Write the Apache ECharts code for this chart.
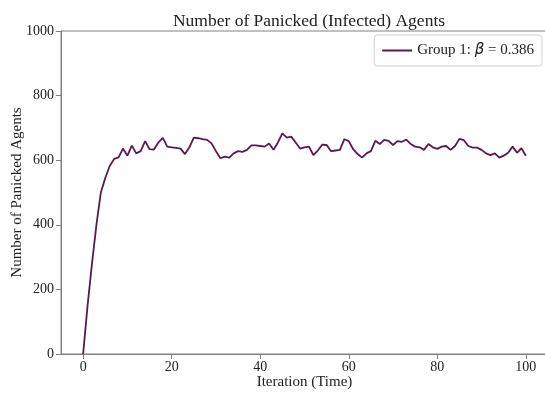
<!DOCTYPE html>
<html>
<head>
<meta charset="utf-8">
<script src="https://cdn.jsdelivr.net/npm/echarts@6/dist/echarts.min.js"></script>
<style>html,body{margin:0;padding:0;background:#fff;}#c{width:545px;height:394px;}</style>
</head>
<body>
<div id="c"></div>
<script>
var iterations = [];
for (var i = 0; i <= 100; i++) iterations.push(i);
var group1Values = [
  0, 150, 280, 400, 500, 545, 582, 604, 609, 636,
  614, 645, 621, 628, 659, 634, 633, 655, 669, 642,
  640, 638, 636, 619, 640, 670, 668, 665, 663, 652,
  628, 606, 611, 608, 621, 628, 626, 632, 646, 646,
  644, 642, 652, 632, 655, 683, 670, 673, 655, 636,
  640, 642, 616, 630, 648, 647, 628, 630, 632, 665,
  659, 634, 619, 608, 621, 628, 660, 650, 663, 660,
  647, 659, 657, 664, 650, 642, 640, 632, 650, 640,
  635, 642, 644, 632, 644, 666, 662, 644, 639, 639,
  632, 621, 616, 621, 608, 614, 623, 642, 623, 637,
  614
];
var xTicks = [0, 20, 40, 60, 80, 100];
var yTicks = [0, 200, 400, 600, 800, 1000];
var seriesName = 'Group 1: {b|β} = 0.386';

var serif = 'Liberation Serif, Times New Roman, serif';
var grey = '#808080';
var chart = echarts.init(document.getElementById('c'), null, {renderer: 'canvas'});
chart.setOption({
  animation: false,
  backgroundColor: '#fff',
  title: {
    text: 'Number of Panicked (Infected) Agents',
    left: 304, top: 7, textAlign: 'center',
    textStyle: {fontFamily: serif, fontSize: 17.5, fontWeight: 'normal', color: '#222'}
  },
  grid: {left: 61, top: 31, width: 487, bottom: 40, outerBoundsMode: 'none', containLabel: false,
         show: true, borderColor: grey, borderWidth: 1, backgroundColor: 'transparent'},
  legend: {
    right: 3, top: 35,
    itemWidth: 30, itemHeight: 2, icon: 'rect',
    itemGap: 8,
    padding: [8, 8, 8, 8],
    borderColor: '#d0d0d0', borderWidth: 1, borderRadius: 3,
    backgroundColor: '#fff',
    formatter: function(){ return 'Group 1: {b|β} = 0.386'; },
    textStyle: {
      fontFamily: serif, fontSize: 15, color: '#222',
      rich: {b: {fontFamily: 'DejaVu Sans', fontStyle: 'italic', fontSize: 15, color: '#222'}}
    }
  },
  xAxis: {
    type: 'value', min: -5, max: 105,
    name: 'Iteration (Time)', nameLocation: 'middle', nameGap: 21, nameMoveOverlap: false,
    nameTextStyle: {fontFamily: serif, fontSize: 15, color: '#222'},
    axisLine: {show: true, onZero: false, lineStyle: {color: grey}},
    axisTick: {show: true, length: 5, customValues: xTicks, lineStyle: {color: grey}},
    axisLabel: {customValues: xTicks, margin: 6, fontFamily: serif, fontSize: 14, color: '#222',
                formatter: function(v){ return String(v); }},
    splitLine: {show: false}
  },
  yAxis: {
    type: 'value', min: 0, max: 1000, interval: 200,
    name: 'Number of Panicked Agents', nameLocation: 'middle', nameGap: 36, nameMoveOverlap: false,
    nameTextStyle: {fontFamily: serif, fontSize: 15, color: '#222'},
    axisLine: {show: true, onZero: false, lineStyle: {color: grey}},
    axisTick: {show: true, length: 5, lineStyle: {color: grey}},
    axisLabel: {margin: 7, fontFamily: serif, fontSize: 14, color: '#222',
                formatter: function(v){ return String(v); }},
    splitLine: {show: false}
  },
  series: [{
    name: seriesName,
    type: 'line',
    data: iterations.map(function(x, k){ return [x, group1Values[k]]; }),
    showSymbol: false,
    symbol: 'none',
    lineStyle: {color: '#5b1a4a', width: 1.8},
    itemStyle: {color: '#5b1a4a'}
  }]
});
</script>
</body>
</html>
